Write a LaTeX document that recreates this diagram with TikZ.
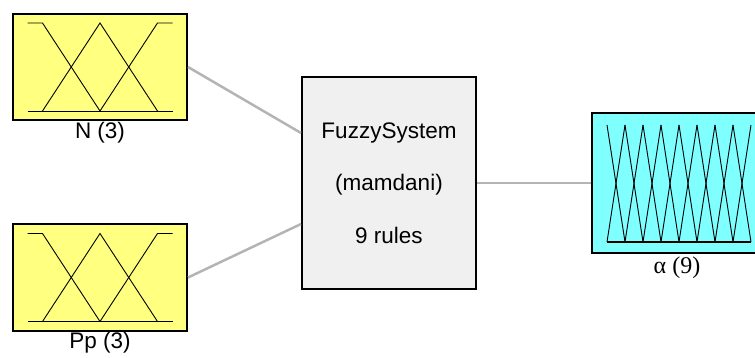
\documentclass[tikz,border=0pt]{standalone}
\usepackage{fontspec}
\setmainfont{Liberation Sans}
\newfontfamily\serifalpha{Liberation Serif}
\begin{document}
\begin{tikzpicture}[x=1pt,y=-1pt,
  inbox/.style={draw=black,line width=2pt,fill=yellowfill,minimum width=174pt,minimum height=106pt,inner sep=0pt},
  sysbox/.style={draw=black,line width=2pt,fill=sysfill,minimum width=174pt,minimum height=212pt,inner sep=0pt,align=center,font=\fontsize{22.5}{52.5}\selectfont},
  outbox/.style={draw=black,line width=2pt,fill=cyanfill,minimum width=174pt,minimum height=140pt,inner sep=0pt},
  lbl/.style={font=\fontsize{22.5}{26}\selectfont,inner sep=0pt},
  conn/.style={draw=conncol,line width=2.5pt},
  mf/.style={line width=0.9pt,black},
  threemf/.pic={
    \draw[mf] (-72.5,-44) -- (-57.5,-44) -- (0,44);
    \draw[mf] (-57.5,44) -- (0,-44) -- (57.5,44);
    \draw[mf] (0,44) -- (57.5,-44) -- (72.5,-44);
    \draw[mf] (-72.5,44) -- (72.5,44);
  }]
\definecolor{yellowfill}{RGB}{255,255,128}
\definecolor{cyanfill}{RGB}{128,255,255}
\definecolor{sysfill}{RGB}{240,240,240}
\definecolor{conncol}{RGB}{180,180,180}
\clip (0,0) rectangle (755,358);
\useasboundingbox (0,0) rectangle (755,358);

\node[inbox] (N) at (100,67) {};
\node[inbox,minimum height=107pt] (P) at (100,277.5) {};
\node[sysbox] (S) at (389,183) {FuzzySystem\\(mamdani)\\9 rules};
\node[outbox] (O) at (679,183) {};

\pic at (N.center) {threemf};
\pic at (P.center) {threemf};

\foreach \i in {0,...,7} {
  \draw[mf] ({607+18*\i},125) -- ({625+18*\i},242);
  \draw[mf] ({607+18*\i},242) -- ({625+18*\i},125);
}
\draw[line width=1.8pt] (607,242) -- (751,242);

\node[lbl] (NL) at (100,133) {N (3)};
\node[lbl] (PL) at (100,343) {Pp (3)};
\node[lbl,font=\fontsize{24}{28}\serifalpha] (OL) at (677,268) {α (9)};

\draw[conn] (N.east) -- ([yshift=50pt]S.west);
\draw[conn] (P.east) -- ([yshift=-41pt]S.west);
\draw[conn] (S.east) -- (O.west);
\end{tikzpicture}
\end{document}
